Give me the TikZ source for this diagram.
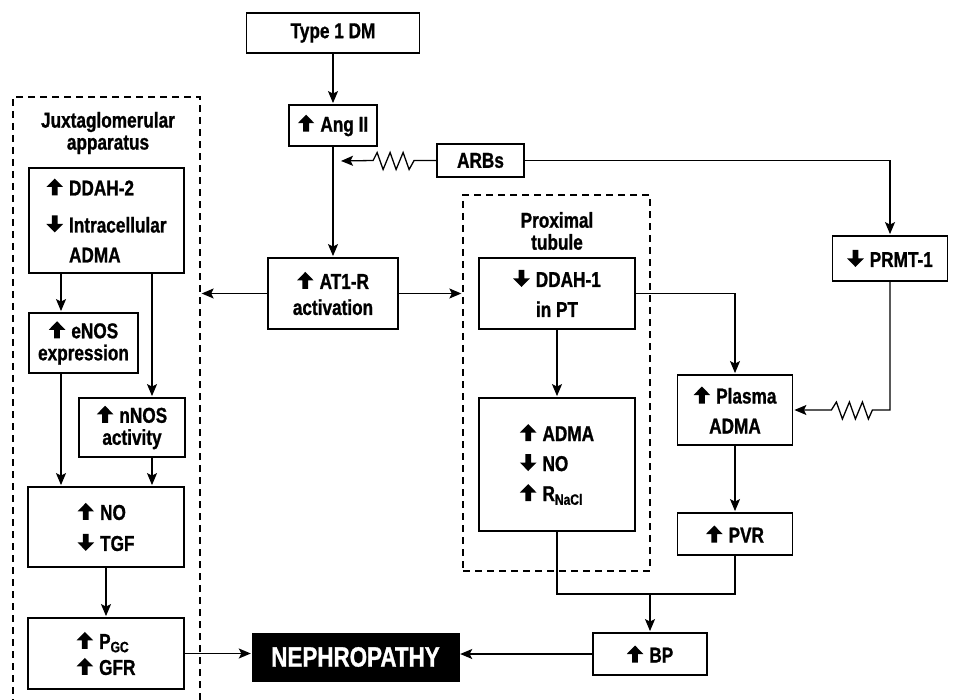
\documentclass[tikz,border=0pt]{standalone}
\usepackage{fontspec}
\setmainfont{Liberation Sans}[FakeStretch=0.8,FakeBold=1]
\newfontfamily\nephfont{Liberation Sans}[FakeStretch=0.8,FakeBold=1]
\usetikzlibrary{arrows.meta}
\newcommand{\UP}{\tikz[baseline=0pt,x=1pt,y=1pt]\fill (-2.9,0)--(-2.9,8.5)--(-8.3,8.5)--(0,17)--(8.3,8.5)--(2.9,8.5)--(2.9,0)--cycle;\hspace{6pt}}
\newcommand{\DN}{\tikz[baseline=0pt,x=1pt,y=1pt]\fill (-2.9,17)--(-2.9,8.5)--(-8.3,8.5)--(0,0)--(8.3,8.5)--(2.9,8.5)--(2.9,17)--cycle;\hspace{6pt}}
\tikzset{
  box/.style={draw, line width=1.8pt, inner sep=0pt, align=center,
    font=\fontsize{21.5}{22}\selectfont\bfseries},
  lbox/.style={box, align=left},
  lbl/.style={inner sep=0pt, align=center, font=\fontsize{21.5}{22}\selectfont\bfseries},
  dbox/.style={draw, line width=1.3pt, dash pattern=on 7pt off 5pt, inner sep=0pt},
  wire/.style={line width=1.3pt},
  conn/.style={wire, -{Stealth[length=12pt,width=10pt,inset=2.5pt]}, shorten >=1pt},
}
\begin{document}
\begin{tikzpicture}[x=1pt,y=-1pt]
\useasboundingbox (0,0) rectangle (958,700);
% dashed regions
\node[dbox, minimum width=187pt, minimum height=620pt] (jga) at (106.5,407) {};
\node[dbox, minimum width=187pt, minimum height=376pt] (pt) at (556.5,383) {};
\node[lbl] (jgalbl) at (108,133) {Juxtaglomerular\\apparatus};
\node[lbl] (ptlbl) at (557,231) {Proximal\\tubule};
% boxes
\node[box, minimum width=173pt, minimum height=40pt] (t1dm) at (333,33) {Type 1 DM};
\node[box, minimum width=88pt, minimum height=41pt] (ang) at (333,125.5) {\UP Ang II};
\node[box, minimum width=87pt, minimum height=33pt] (arbs) at (480.5,160.5) {ARBs};
\node[box, minimum width=115pt, minimum height=45pt] (prmt) at (890,258.5) {\DN PRMT-1};
\node[box, minimum width=130pt, minimum height=71pt] (at1r) at (333,293.5) {\UP AT1-R\\[4pt]activation};
\node[box, minimum width=156pt, minimum height=71pt] (ddah1) at (557,293.5) {\DN DDAH-1\\[8pt]in PT};
\node[lbox, minimum width=156pt, minimum height=133pt] (adma) at (557,464.5) {\UP ADMA\\[8pt]\DN NO\\[8pt]\UP R\textsubscript{NaCl}};
\node[box, minimum width=115pt, minimum height=70pt] (plasma) at (735,410) {\UP Plasma\\[8pt]ADMA};
\node[box, minimum width=115pt, minimum height=42pt] (pvr) at (735,534) {\UP PVR};
\node[box, minimum width=114pt, minimum height=42pt] (bp) at (650,654) {\UP BP};
\node[draw, fill=black, text=white, inner sep=0pt, minimum width=207pt, minimum height=48pt,
  font=\fontsize{28}{30}\nephfont\bfseries] (neph) at (355.5,657) {NEPHROPATHY};
\node[lbox, minimum width=155pt, minimum height=105pt] (ddah2) at (106.5,220.5) {\UP DDAH-2\\[15pt]\DN Intracellular\\[8pt]\hphantom{\UP}ADMA};
\node[box, minimum width=109pt, minimum height=60pt] (enos) at (83.5,343) {\UP eNOS\\expression};
\node[box, minimum width=106pt, minimum height=59pt] (nnos) at (132,427.5) {\UP nNOS\\activity};
\node[lbox, minimum width=156pt, minimum height=80pt] (notgf) at (106,527) {\UP NO\\[9pt]\DN TGF};
\node[lbox, minimum width=156pt, minimum height=71pt] (pgc) at (106,653.5) {\UP P\textsubscript{GC}\\[4pt]\UP GFR};
% helper coordinates
\coordinate (angtap) at (340,161);
\coordinate (xa) at (61,0);
\coordinate (xb) at (152,0);
\coordinate (jbp) at (650,594);
% connectors
\draw[conn] (t1dm) -- (ang);
\draw[conn] (ang) -- (at1r);
\draw[conn] (arbs.west) -- ++(-22,0) -- ++(-5,9) -- ++(-6,-17) -- ++(-7,17) -- ++(-6,-17) -- ++(-7,17) -- ++(-6,-17) -- ++(-4,8) -- (angtap);
\draw[conn] (arbs.east) -| (prmt.north);
\draw[conn] (prmt.south) |- ([xshift=79pt]plasma.east) -- ++(-4,9) -- ++(-6,-17) -- ++(-7,17) -- ++(-6,-17) -- ++(-7,17) -- ++(-6,-17) -- ++(-5,8) -- (plasma.east);
\draw[conn] (at1r.east) -- (at1r.east -| pt.west);
\draw[conn] (at1r.west) -- (at1r.west -| jga.east);
\draw[conn] (ddah1.east) -| (plasma.north);
\draw[conn] (ddah1) -- (adma);
\draw[conn] (plasma) -- (pvr);
\draw[wire] (adma.south) |- (pvr.south |- jbp) -- (pvr.south);
\draw[conn] (jbp) -- (bp.north);
\draw[conn] (bp.west) -- (bp.west -| neph.east);
\draw[conn] (pgc.east) -- (pgc.east -| neph.west);
\draw[conn] (ddah2.south -| xa) -- (enos.north -| xa);
\draw[conn] (ddah2.south -| xb) -- (nnos.north -| xb);
\draw[conn] (enos.south -| xa) -- (notgf.north -| xa);
\draw[conn] (nnos.south -| xb) -- (notgf.north -| xb);
\draw[conn] (notgf) -- (pgc);
\end{tikzpicture}
\end{document}
